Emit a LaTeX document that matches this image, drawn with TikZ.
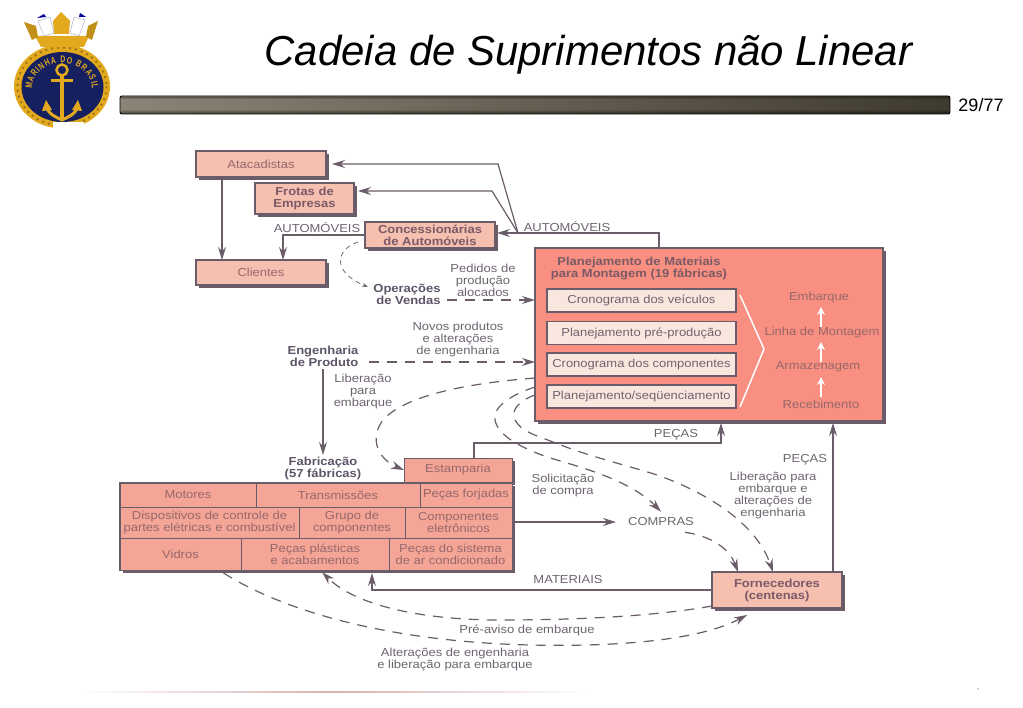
\documentclass[tikz,border=0pt]{standalone}
\usepackage{fontspec}
\setmainfont{Liberation Sans}
\newfontfamily\largafont[FakeStretch=1.12]{Liberation Sans}
\newfontfamily\lemafont[FakeStretch=.72]{Liberation Sans}
\usetikzlibrary{arrows.meta,shadows,decorations.text}
\definecolor{linecol}{HTML}{6A5C68}
\definecolor{textcol}{HTML}{6E6470}
\definecolor{boldcol}{HTML}{5E5468}
\definecolor{celltext}{HTML}{96686C}
\definecolor{cellbold}{HTML}{7A5A66}
\definecolor{palebox}{HTML}{F6C0B0}
\definecolor{fabbox}{HTML}{F5A596}
\definecolor{planbox}{HTML}{F98F80}
\definecolor{innerbox}{HTML}{F9E6DE}
\definecolor{gold}{HTML}{E3A91E}
\definecolor{navy}{HTML}{16205F}
\definecolor{barleft}{HTML}{8A8576}
\definecolor{barright}{HTML}{3F3A2E}
\definecolor{footline}{HTML}{D8B0B0}
\tikzset{
  fonte/.style={font=\largafont\fontsize{11.6}{12}\selectfont},
  fonteb/.style={font=\largafont\fontsize{11.6}{12}\selectfont\bfseries},
  caixa/.style={draw=linecol,line width=1.2pt,inner sep=0pt,outer sep=0pt,align=center,text=celltext,fonte,
    drop shadow={shadow xshift=3pt,shadow yshift=-3pt,fill=linecol,opacity=1}},
  interna/.style={draw=linecol,line width=1.2pt,fill=innerbox,inner sep=0pt,outer sep=0pt,align=center,text=textcol,fonte,
    minimum width=189pt,minimum height=23pt},
  celula/.style={draw=linecol,line width=1pt,fill=fabbox,inner sep=0pt,outer sep=0pt,align=center,text=celltext,fonte},
  rotulo/.style={align=center,text=textcol,inner sep=0pt,yshift=-1pt,fonte},
  negrito/.style={align=right,text=boldcol,inner sep=0pt,yshift=-1pt,fonteb},
  seta/.style={draw=linecol,line width=1.2pt,-{Stealth[length=13pt,width=8pt]}},
  tracejada/.style={draw=linecol,line width=1.2pt,dash pattern=on 10pt off 8pt,-{Stealth[length=13pt,width=8pt]}},
  branca/.style={draw=white,line width=2pt,-{Stealth[length=8pt,width=8pt]}}
}
\begin{document}
\begin{tikzpicture}[x=1pt,y=-1pt]
  \useasboundingbox (0,0) rectangle (1023,708);
  % title and bar
  \node[font=\fontsize{41.9}{44}\selectfont\itshape,inner sep=0pt] (titulo) at (588.5,55) {Cadeia de Suprimentos não Linear};
  \shade[left color=barleft,right color=barright,rounded corners=2pt] (120,96) rectangle (950,114);
  \foreach \ytop/\alfa in {97/.3,98/.15,110/.1,111/.2,112/.3,113/.4}
    \fill[black,opacity=\alfa] (121,\ytop) rectangle (949,\ytop+1);
  \draw[black,line width=.9pt,rounded corners=2pt] (120,96) rectangle (950,114);
  \node[font=\fontsize{18}{18}\selectfont,inner sep=0pt] (pagina) at (981,105) {29/77};
  \fill[left color=white,right color=footline] (80,691.5) rectangle (335,692.7);
  \fill[left color=footline,right color=white] (335,691.5) rectangle (590,692.7);
  \fill[gray!70] (978,689) circle (.8);
  % emblem
  \fill[gold] (62,86.5) ellipse [x radius=48,y radius=42];
  \draw[gold!70!black,line width=2pt,dash pattern=on 2pt off 4pt] (62,86.5) ellipse [x radius=44.5,y radius=39];
  \fill[navy] (62.5,87) ellipse [x radius=41,y radius=35];
  \fill[white] (53,122) rectangle (84,131);
  \path[postaction={decorate,decoration={text along path,text align=fit to path,
    text={|\lemafont\fontsize{9.5}{10}\selectfont\bfseries\color{gold}|MARINHA DO BRASIL}}}]
    (62,89) ++(-30,0) arc [start angle=180,end angle=360,x radius=30,y radius=26];
  \draw[gold,line width=2.5pt] (62,70) circle (5.5);
  \draw[gold,line width=3.5pt] (62,76) -- (62,118);
  \draw[gold,line width=3pt] (51,81) -- (73,81);
  \draw[gold,line width=3pt] (46,106) .. controls (49,115) and (56,117) .. (62,120) .. controls (68,117) and (75,115) .. (78,106);
  \fill[gold] (42,111) -- (46,100) -- (52,110) -- cycle;
  \fill[gold] (82,111) -- (78,100) -- (72,110) -- cycle;
  \fill[gold] (35,36) -- (89,36) -- (84,47) -- (41,47) -- cycle;
  \fill[gold!85!black] (24,22) -- (36,26) -- (38,37) -- (32,40) -- cycle;
  \fill[gold!85!black] (98,21) -- (88,26) -- (86,37) -- (92,40) -- cycle;
  \fill[gold] (54,34) -- (53,21) -- (61,12) -- (70,21) -- (69,34) -- cycle;
  \draw[navy!40,fill=white] (38,21) -- (50,17) -- (54,33) -- (44,36) -- cycle;
  \draw[navy!40,fill=white] (85,20) -- (74,17) -- (70,33) -- (79,36) -- cycle;
  \fill[blue!60!black] (37,18) -- (44,14) -- (46,17) -- cycle;
  \fill[blue!60!black] (80,13) -- (86,17) -- (79,17) -- cycle;
  % upper boxes
  \node[caixa,fill=palebox,minimum width=130pt,minimum height=26pt] (atacadistas) at (261,164) {Atacadistas};
  \node[caixa,fill=palebox,minimum width=99pt,minimum height=31pt,fonteb,text=cellbold] (frotas) at (304.5,198.5) {Frotas de\\Empresas};
  \node[caixa,fill=palebox,minimum width=130pt,minimum height=26pt,fonteb,text=cellbold] (concess) at (430,235) {Concessionárias\\de Automóveis};
  \node[caixa,fill=palebox,minimum width=130pt,minimum height=25pt] (clientes) at (261,272.5) {Clientes};
  % planning box
  \node[caixa,fill=planbox,minimum width=348pt,minimum height=173pt] (plano) at (709,334.5) {};
  \node[rotulo,text=cellbold,fonteb] (planotit) at (639,268) {Planejamento de Materiais\\para Montagem (19 fábricas)};
  \node[interna] (cronveic) at (641.5,300.5) {Cronograma dos veículos};
  \node[interna] (planpre) at (641.5,333) {Planejamento pré-produção};
  \node[interna] (croncomp) at (641.5,364.5) {Cronograma dos componentes};
  \node[interna] (planseq) at (641.5,396.5) {Planejamento/seqüenciamento};
  \coordinate (chevtop) at (740,295);
  \coordinate (chevtip) at (764,349);
  \coordinate (chevbot) at (740,407);
  \draw[draw=white,line width=1.5pt] (chevtop) -- (chevtip) -- (chevbot);
  \node[rotulo,text=celltext] (embarque) at (819,297) {Embarque};
  \node[rotulo,text=celltext] (linhamont) at (822,332) {Linha de Montagem};
  \node[rotulo,text=celltext] (armazen) at (818,366) {Armazenagem};
  \node[rotulo,text=celltext] (receb) at (821,403) {Recebimento};
  \draw[branca] (821,397) -- (821,377);
  \draw[branca] (821,362) -- (821,342);
  \draw[branca] (821,327) -- (821,307);
  % fabrication block
  \node[caixa,fill=fabbox,minimum width=392pt,minimum height=87pt] (bloco) at (316,526.5) {};
  \node[caixa,line width=1pt,fill=fabbox,minimum width=108pt,minimum height=24pt] (estamparia) at (458,470) {Estamparia};
  \node[celula,minimum width=136pt,minimum height=24pt] (motores) at (188,495) {Motores};
  \node[celula,minimum width=164pt,minimum height=24pt] (transm) at (338,495) {Transmissões};
  \node[celula,minimum width=92pt,minimum height=24pt] (forjadas) at (466,495) {Peças forjadas};
  \node[celula,minimum width=179pt,minimum height=31pt] (dispos) at (209.5,522.5) {Dispositivos de controle de\\partes elétricas e combustível};
  \node[celula,minimum width=106pt,minimum height=31pt] (grupo) at (352,522.5) {Grupo de\\componentes};
  \node[celula,minimum width=107pt,minimum height=31pt] (eletron) at (458.5,522.5) {Componentes\\eletrônicos};
  \node[celula,minimum width=121pt,minimum height=32pt] (vidros) at (180.5,554) {Vidros};
  \node[celula,minimum width=148pt,minimum height=32pt] (plasticas) at (315,554) {Peças plásticas\\e acabamentos};
  \node[celula,minimum width=123pt,minimum height=32pt] (arcond) at (450.5,554) {Peças do sistema\\de ar condicionado};
  \node[caixa,fill=palebox,minimum width=130pt,minimum height=36pt,fonteb,text=cellbold] (fornec) at (777,590) {Fornecedores\\(centenas)};
  % labels
  \node[rotulo] (autoesq) at (317,227) {AUTOMÓVEIS};
  \node[rotulo] (autodir) at (567,226) {AUTOMÓVEIS};
  \node[negrito] (vendas) at (407,293) {Operações\\de Vendas};
  \node[rotulo] (pedidos) at (483,279) {Pedidos de\\produção\\alocados};
  \node[rotulo] (novos) at (458,339) {Novos produtos\\e alterações\\de engenharia};
  \node[negrito] (engenh) at (323,355) {Engenharia\\de Produto};
  \node[rotulo] (liberacao) at (363,391) {Liberação\\para\\embarque};
  \node[negrito,align=center] (fabric) at (323,468) {Fabricação\\(57 fábricas)};
  \node[rotulo] (solic) at (563,485) {Solicitação\\de compra};
  \node[rotulo,yshift=1pt,inner xsep=12pt,inner ysep=6pt] (compras) at (661,522) {COMPRAS};
  \node[rotulo] (pecasint) at (676,434) {PEÇAS};
  \node[rotulo] (pecasdir) at (805,459) {PEÇAS};
  \node[rotulo] (libalt) at (773,494.5) {Liberação para\\embarque e\\alterações de\\engenharia};
  \node[rotulo] (materiais) at (568,579) {MATERIAIS};
  \node[rotulo] (preaviso) at (527,629) {Pré-aviso de embarque};
  \node[rotulo] (altlib) at (455,659) {Alterações de engenharia\\e liberação para embarque};
  % connectors
  \coordinate (autobend) at (659,233);
  \coordinate (autojunc) at (518,233);
  \coordinate (clibend) at (283,235);
  \coordinate (matbend) at (372,590);
  \coordinate (pecabend) at (474,443);
  \draw[seta] (autobend |- plano.north) -- (autobend) -- ([xshift=2pt]concess.east |- autobend);
  \draw[seta] (autojunc) -- (498,164) -- ([xshift=6pt]atacadistas.east);
  \draw[seta] (autojunc) -- (492,191) -- (358,191);
  \draw[seta] (222,177) -- (222,260);
  \draw[seta] (concess.west) -- (clibend) -- (clibend |- clientes.north);
  \draw[seta,line width=.7pt,dash pattern=on 5pt off 4pt,-{Stealth[length=6pt,width=4pt]}] (358,242) .. controls (335,250) and (332,272) .. (368,287);
  \draw[tracejada] (447,300) -- (plano.west |- 447,300);
  \draw[tracejada] (369,362) -- (plano.west |- 369,362);
  \draw[seta] (323,369) -- (323,455);
  \draw[tracejada] (plano.west |- 535,378) .. controls (470,383) and (405,395) .. (383,420) .. controls (368,440) and (380,460) .. (estamparia.west);
  \draw[tracejada] (plano.west |- 535,387) .. controls (510,395) and (492,408) .. (495,420) .. controls (498,437) and (525,449) .. (547,457) .. controls (580,467) and (630,480) .. (compras.north);
  \draw[tracejada] (plano.west |- 535,395) .. controls (520,400) and (510,410) .. (515,420) .. controls (522,432) and (535,435) .. (553,442) .. controls (590,457) and (630,466) .. (657,475) .. controls (700,490) and (755,520) .. ([xshift=-4pt]fornec.north);
  \draw[tracejada] ([xshift=24pt]compras.south) .. controls (705,535) and (728,545) .. ([xshift=-39pt]fornec.north);
  \draw[seta] (bloco.east |- compras) -- (compras.west);
  \draw[seta,shorten >=3pt] (estamparia.north -| pecabend) -- (pecabend) -- (721,443) -- (721,420);
  \draw[seta,shorten >=3pt] (fornec.north -| 833,0) -- (833,420);
  \draw[seta,shorten >=3pt] (fornec.west) -- (matbend) -- (matbend |- plasticas.south);
  \draw[tracejada,shorten >=3pt] ([yshift=-16pt]fornec.west) .. controls (650,617) and (570,620) .. (500,620) .. controls (420,620) and (355,605) .. ([xshift=5pt]plasticas.south);
  \draw[tracejada] ([xshift=43pt,yshift=-3pt]vidros.south) .. controls (290,615) and (400,642) .. (530,645) .. controls (620,647) and (700,640) .. ([xshift=-30pt,yshift=-7pt]fornec.south);
\end{tikzpicture}
\end{document}
